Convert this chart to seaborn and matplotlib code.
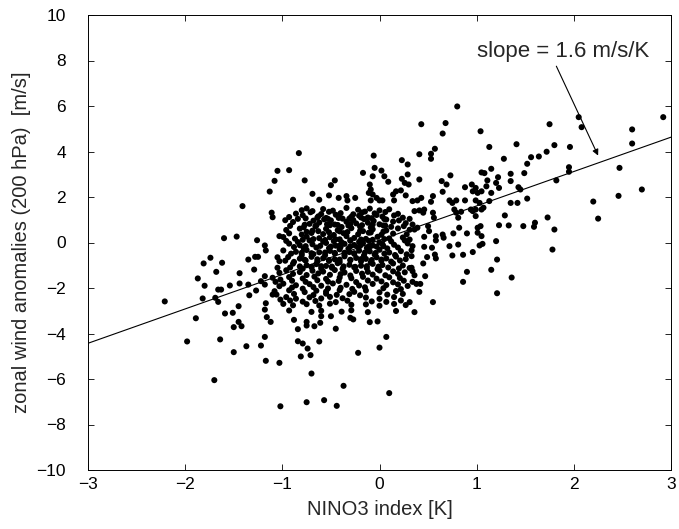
import numpy as np
import pandas as pd
import matplotlib
matplotlib.use("Agg")
import matplotlib.pyplot as plt
import seaborn as sns

# ---- data (NINO3 index [K], zonal wind anomaly [m/s]) ----
# sparse upper region
x_upper = [-1.05, -1.08, -1.13, -1.41,
           -0.83, -0.93, -0.77, -0.89, -0.69, -0.62, -0.52, -0.50, -0.46, -0.42, -0.34, -0.33, -0.25,
           -0.17, -0.06, -0.05, -0.07, 0.02, 0.05, 0.09, -0.10, -0.09, -0.11, -0.07, -0.03, -0.09, 0.00,
           0.03, 0.14, 0.17, 0.15, 0.23, 0.29, 0.23, 0.26, 0.29, 0.30, 0.22, 0.27]
y_upper = [3.15, 2.71, 2.24, 1.60,
           3.93, 3.18, 2.73, 1.88, 2.14, 1.88, 2.07, 2.52, 2.73, 1.96, 2.04, 1.85, 1.96,
           3.06, 3.82, 3.28, 2.91, 3.16, 2.91, 2.67, 2.55, 2.33, 2.18, 2.11, 1.96, 1.85, 1.85,
           1.85, 2.11, 2.25, 1.85, 3.62, 3.43, 2.80, 2.62, 2.99, 2.55, 2.29, 2.07]

# upper right region
x_upright = [0.80, 0.43, 0.68, 0.65, 1.04, 1.13, 1.41, 1.28, 0.41, 0.57, 0.53, 0.53, 0.41,
             0.73, 0.64, 0.69, 0.65, 0.88, 0.95, 0.99, 0.96, 1.01, 1.05, 1.05, 1.08, 1.15, 1.11,
             1.10, 1.22, 1.20, 1.15, 1.23, 1.35, 1.35, 1.49, 1.52, 1.56, 1.64, 1.43, 1.45, 1.52,
             1.35, 1.42, 1.13, 0.99, 1.03, 0.88, 0.72, 0.75, 0.79, 0.55, 0.53, 0.43, 0.39, 0.34,
             2.92, 2.05, 2.08, 1.75, 2.60, 2.60, 1.80, 1.72, 1.96, 1.95, 1.95, 1.82, 2.47, 2.70,
             2.46, 2.20, 1.73, 1.80, 1.78, 2.25]
y_upright = [5.98, 5.20, 5.25, 4.79, 4.89, 4.20, 4.32, 3.68, 3.88, 4.12, 3.90, 3.68, 2.77,
             2.95, 2.70, 2.55, 2.23, 2.43, 2.55, 2.40, 2.25, 2.18, 2.25, 3.08, 3.05, 3.24, 2.73,
             2.47, 2.87, 2.62, 2.18, 2.40, 3.02, 2.70, 3.05, 3.46, 3.75, 3.78, 2.43, 2.33, 1.93,
             1.74, 1.74, 1.82, 1.85, 1.74, 1.85, 1.85, 1.74, 1.85, 2.04, 1.79, 1.96, 1.85, 1.82,
             5.51, 5.51, 5.07, 5.20, 4.97, 4.35, 4.28, 3.99, 4.20, 3.31, 3.11, 2.73, 3.28, 2.33,
             2.05, 1.80, 1.10, 0.57, -0.31, 1.05]

# left region
x_left = [-1.11, -1.10, -1.60, -1.47, -1.26, -1.18, -1.17, -1.03, -1.05, -1.03, -1.74, -1.81,
          -1.62, -1.35, -1.28, -1.25, -1.68, -1.29, -1.44, -1.87, -1.80, -1.66, -1.63, -1.54,
          -1.44, -1.35, -1.18, -1.22, -1.18, -1.10, -1.07, -1.08, -1.10, -1.06, -1.34, -1.27,
          -1.82, -1.69, -1.66, -2.21, -1.45, -1.51, -1.59, -1.17, -1.18, -1.05, -1.03, -1.02,
          -1.03, -1.02]
y_left = [1.31, 1.11, 0.19, 0.26, 0.10, -0.13, -0.35, 0.28, -0.65, -0.82, -0.67, -0.92,
          -0.89, -0.75, -0.63, -0.63, -1.29, -1.19, -1.35, -1.58, -1.90, -2.07, -2.07, -1.89,
          -1.80, -1.85, -1.48, -1.70, -1.85, -1.55, -1.73, -2.14, -2.29, -2.29, -2.32, -2.11,
          -2.46, -2.43, -2.61, -2.59, -2.80, -3.09, -3.12, -2.67, -2.95, -1.11, -1.33, -1.63,
          -1.92, -2.51]

# lower region
x_lower = [-1.89, -1.98, -1.64, -1.50, -1.50, -1.45, -1.42, -1.37, -1.22, -1.18, -1.17, -1.16,
           -1.12, -1.03, -1.70, -1.02,
           -0.88, -0.75, -0.75, -0.84, -0.67, -0.61, -0.60, -0.50, -0.45, -0.30, -0.27, -0.10,
           -0.02, 0.07, 0.00, -0.84, -0.79, -0.74, -0.62, -0.81, -0.71, -0.22, -0.70, -0.37,
           0.10, -0.75, -0.57, -0.44]
y_lower = [-3.33, -4.35, -4.26, -4.82, -3.72, -3.49, -3.68, -4.56, -4.53, -4.15, -5.20, -3.28,
           -3.49, -5.29, -6.05, -7.20,
           -3.40, -3.49, -3.65, -3.81, -3.68, -3.53, -3.24, -3.24, -3.79, -3.31, -3.38, -3.50,
           -3.47, -4.15, -4.62, -4.34, -4.44, -4.66, -4.35, -5.01, -4.95, -4.85, -5.76, -6.30,
           -6.62, -7.02, -6.93, -7.18]

# right-centre region
x_right = [0.36, 0.41, 0.46, 0.45, 0.55, 0.56, 0.77, 0.79, 0.84, 0.81, 0.94, 0.96, 0.99, 1.05,
           1.07, 0.99, 1.29, 1.23, 1.33, 1.48, 1.60, 1.59, 0.34, 0.36, 0.39, 0.50, 0.51, 0.46,
           0.58, 0.58, 0.65, 0.66, 0.76, 0.82, 0.90, 1.01, 1.04, 1.01, 1.05, 1.20, 0.34, 0.31,
           0.46, 0.54, 0.72, 0.81, 1.03, 1.06, 0.33, 0.49, 0.57, 0.58, 0.75, 0.86, 0.96, 1.21,
           0.45, 0.33, 0.34, 0.36, 0.47, 0.90, 1.15, 1.36, 0.86, 0.34, 0.38, 0.42, 0.41, 1.21,
           0.55, 0.31, 0.36]
y_right = [1.38, 1.41, 1.45, 1.31, 1.31, 1.09, 1.45, 1.31, 1.35, 1.09, 1.45, 1.38, 1.45, 1.45,
           1.53, 1.16, 1.19, 0.76, 0.75, 0.72, 0.87, 0.69, 0.79, 0.57, 0.65, 0.72, 0.50, 0.25,
           0.28, 0.09, 0.35, 0.21, 0.40, 0.65, 0.40, 0.65, 0.72, 0.43, 0.28, 0.06, -0.16, 0.13,
           -0.19, -0.23, -0.16, -0.09, -0.13, -0.06, -0.60, -0.64, -0.53, -0.70, -0.57, -0.54,
           -0.42, -0.75, -0.92, -1.11, -1.26, -1.44, -1.48, -1.29, -1.20, -1.54, -1.73, -1.73,
           -1.82, -1.82, -2.17, -2.23, -2.62, -2.62, -3.06]

# dense core, first layer
x_core = [-0.80, -0.75, -0.69, -0.58, -0.48, -0.34, -0.22, -0.15, -0.10, 0.00, 0.10,
          -0.93, -0.79, -0.63, -0.55, -0.45, -0.29, -0.21, -0.12, -0.03, 0.03, 0.15, 0.24,
          -0.89, -0.72, -0.62, -0.46, -0.34, -0.24, -0.12, 0.00, 0.14, 0.27,
          -0.96, -0.82, -0.69, -0.55, -0.43, -0.29, -0.17, -0.07, 0.07, 0.19, 0.31,
          -0.99, -0.87, -0.75, -0.62, -0.51, -0.41, -0.34, -0.26, -0.14, -0.02, 0.10, 0.24,
          -0.93, -0.82, -0.69, -0.55, -0.45, -0.36, -0.26, -0.17, -0.07, 0.03, 0.15, 0.29,
          -0.99, -0.86, -0.75, -0.62, -0.51, -0.41, -0.31, -0.21, -0.10, 0.00, 0.10, 0.22, 0.33,
          -0.94, -0.82, -0.70, -0.58, -0.46, -0.36, -0.24, -0.14, -0.03, 0.07, 0.17, 0.27,
          -0.89, -0.75, -0.65, -0.55, -0.43, -0.31, -0.19, -0.07, 0.03, 0.14, 0.24,
          -0.96, -0.82, -0.69, -0.58, -0.46, -0.36, -0.24, -0.12, 0.00, 0.14, 0.26,
          -0.93, -0.79, -0.67, -0.55, -0.41, -0.29, -0.17, -0.03, 0.10, 0.21,
          -0.99, -0.86, -0.72, -0.60, -0.48, -0.34, -0.21, -0.07, 0.07, 0.19, 0.29,
          -0.93, -0.77, -0.65, -0.55, -0.41, -0.26, -0.14, 0.00, 0.17,
          -0.96, -0.86, -0.72, -0.60, -0.51, -0.38, -0.14, 0.00, 0.15,
          -0.99, -0.89, -0.75, -0.62, -0.51, -0.29, -0.14, 0.00, 0.15, 0.27,
          -0.93, -0.70, -0.60, -0.39, -0.29, -0.12, 0.17]
y_core = [1.42, 1.50, 1.38, 1.47, 1.40, 1.52, 1.44, 1.36, 1.49, 1.41, 1.46,
          1.12, 1.20, 1.15, 1.08, 1.22, 1.13, 1.18, 1.10, 1.21, 1.14, 1.19, 1.09,
          0.90, 0.82, 0.88, 0.79, 0.91, 0.84, 0.87, 0.80, 0.92, 0.85,
          0.55, 0.61, 0.52, 0.60, 0.54, 0.63, 0.50, 0.58, 0.53, 0.62, 0.56,
          0.24, 0.17, 0.26, 0.19, 0.23, 0.14, 0.28, 0.20, 0.16, 0.25, 0.18, 0.22,
          -0.05, -0.12, -0.08, -0.02, -0.14, -0.06, -0.11, -0.03, -0.13, -0.07, -0.10, -0.04,
          -0.35, -0.41, -0.33, -0.43, -0.37, -0.30, -0.42, -0.36, -0.39, -0.32, -0.44, -0.38, -0.34,
          -0.64, -0.71, -0.63, -0.69, -0.74, -0.61, -0.68, -0.72, -0.65, -0.70, -0.62, -0.73,
          -0.93, -1.00, -0.95, -1.03, -0.91, -0.98, -1.02, -0.94, -0.99, -0.92, -1.01,
          -1.22, -1.30, -1.24, -1.28, -1.21, -1.32, -1.25, -1.29, -1.23, -1.27, -1.31,
          -1.52, -1.58, -1.50, -1.60, -1.54, -1.57, -1.51, -1.59, -1.53, -1.56,
          -1.81, -1.88, -1.83, -1.90, -1.80, -1.86, -1.89, -1.82, -1.87, -1.84, -1.91,
          -2.10, -2.18, -2.12, -2.16, -2.09, -2.17, -2.11, -2.19, -2.13,
          -2.40, -2.47, -2.41, -2.46, -2.39, -2.45, -2.42, -2.48, -2.40,
          -2.70, -2.76, -2.71, -2.77, -2.69, -2.74, -2.72, -2.78, -2.70, -2.75,
          -2.99, -3.05, -3.00, -3.04, -2.98, -3.06, -3.01]

# dense core, second (in-between) layer
x_core2 = [-0.86, -0.71, -0.60, -0.52, -0.40, -0.27, -0.18, -0.05, 0.06, 0.19,
           -0.97, -0.84, -0.68, -0.57, -0.50, -0.38, -0.27, -0.16, -0.06, 0.07, 0.20, 0.31,
           -0.92, -0.78, -0.66, -0.51, -0.39, -0.32, -0.20, -0.09, 0.04, 0.12, 0.25,
           -0.93, -0.80, -0.70, -0.58, -0.47, -0.37, -0.22, -0.11, 0.02, 0.14, 0.28,
           -0.96, -0.84, -0.72, -0.58, -0.47, -0.39, -0.30, -0.21, -0.11, 0.00, 0.12, 0.26,
           -0.88, -0.78, -0.65, -0.52, -0.40, -0.32, -0.22, -0.13, -0.03, 0.08, 0.19,
           -0.91, -0.80, -0.68, -0.56, -0.46, -0.36, -0.26, -0.16, -0.05, 0.05, 0.16, 0.28,
           -0.97, -0.88, -0.76, -0.64, -0.52, -0.41, -0.30, -0.19, -0.09, 0.02, 0.12, 0.21,
           -0.92, -0.79, -0.70, -0.60, -0.49, -0.38, -0.26, -0.13, -0.02, 0.09, 0.20, 0.31,
           -0.89, -0.75, -0.63, -0.51, -0.40, -0.30, -0.18, -0.07, 0.06, 0.19,
           -0.90, -0.76, -0.64, -0.53, -0.42, -0.24, -0.12, 0.02, 0.14, 0.25,
           -0.90, -0.79, -0.68, -0.53, -0.40, -0.28, -0.15, 0.04, 0.22,
           -0.88, -0.68, -0.55, -0.44, -0.31, -0.20, 0.08, 0.24,
           -0.92, -0.79, -0.66, -0.45, -0.33, -0.08, 0.07, 0.22]
y_core2 = [1.27, 1.33, 1.25, 1.35, 1.29, 1.24, 1.32, 1.28, 1.34, 1.26,
           0.98, 1.04, 0.96, 1.02, 0.97, 1.05, 0.99, 1.03, 0.95, 1.01, 0.97, 1.04,
           0.73, 0.67, 0.71, 0.76, 0.68, 0.74, 0.70, 0.66, 0.75, 0.69, 0.72,
           0.40, 0.35, 0.42, 0.37, 0.33, 0.41, 0.36, 0.43, 0.34, 0.39, 0.36,
           0.07, 0.02, 0.09, 0.04, 0.06, 0.01, 0.08, 0.03, 0.07, 0.00, 0.05, 0.09,
           -0.20, -0.26, -0.22, -0.25, -0.19, -0.27, -0.21, -0.24, -0.18, -0.26, -0.22,
           -0.49, -0.55, -0.51, -0.56, -0.48, -0.54, -0.50, -0.57, -0.53, -0.49, -0.55, -0.52,
           -0.80, -0.85, -0.79, -0.84, -0.81, -0.86, -0.78, -0.83, -0.87, -0.80, -0.84, -0.79,
           -1.10, -1.15, -1.08, -1.14, -1.11, -1.16, -1.09, -1.13, -1.17, -1.10, -1.14, -1.12,
           -1.38, -1.43, -1.36, -1.42, -1.39, -1.45, -1.37, -1.41, -1.44, -1.38,
           -1.68, -1.73, -1.66, -1.72, -1.69, -1.74, -1.67, -1.71, -1.75, -1.68,
           -1.98, -2.03, -1.96, -2.02, -1.99, -2.04, -1.97, -2.01, -2.05,
           -2.26, -2.31, -2.25, -2.30, -2.27, -2.32, -2.29, -2.26,
           -2.55, -2.60, -2.57, -2.62, -2.56, -2.59, -2.61, -2.55]

# dense core, third layer (the nearly solid centre)
x_core3 = [-0.76, -0.64, -0.53, -0.42, -0.31, -0.19, -0.08, 0.05,
           -0.77, -0.65, -0.54, -0.43, -0.30, -0.18, -0.07, 0.06,
           -0.75, -0.63, -0.52, -0.41, -0.33, -0.20, -0.09, 0.04,
           -0.79, -0.68, -0.56, -0.45, -0.30, -0.19, -0.07, 0.05,
           -0.76, -0.61, -0.50, -0.41, -0.30, -0.20, -0.10, 0.04,
           -0.80, -0.70, -0.56, -0.46, -0.36, -0.26, -0.15, -0.04,
           -0.77, -0.64, -0.52, -0.41, -0.30, -0.19, -0.08, 0.02,
           -0.82, -0.70, -0.60, -0.49, -0.37, -0.25, -0.13, -0.01]
y_core3 = [1.06, 1.09, 1.04, 1.08, 1.05, 1.10, 1.07, 1.03,
           0.78, 0.75, 0.80, 0.77, 0.81, 0.76, 0.79, 0.74,
           0.47, 0.50, 0.45, 0.49, 0.46, 0.51, 0.44, 0.48,
           0.12, 0.15, 0.11, 0.14, 0.10, 0.13, 0.12, 0.15,
           -0.16, -0.15, -0.18, -0.14, -0.17, -0.15, -0.18, -0.16,
           -0.45, -0.47, -0.44, -0.46, -0.45, -0.47, -0.44, -0.46,
           -0.76, -0.74, -0.77, -0.75, -0.76, -0.73, -0.77, -0.75,
           -1.05, -1.07, -1.04, -1.06, -1.05, -1.07, -1.04, -1.06]

# regression line (end points)
fit_x = [-3.0, 3.0]
fit_y = [-4.43, 4.63]

slope_label = "slope = 1.6 m/s/K"
x_ticks = [-3, -2, -1, 0, 1, 2, 3]
y_ticks = [-10, -8, -6, -4, -2, 0, 2, 4, 6, 8, 10]

df = pd.DataFrame({
    "nino3": x_upper + x_upright + x_left + x_lower + x_right + x_core + x_core2 + x_core3,
    "u200": y_upper + y_upright + y_left + y_lower + y_right + y_core + y_core2 + y_core3,
})
fit = pd.DataFrame({"x": fit_x, "y": fit_y})

# ---- styling ----
sns.set_style("ticks")
plt.rcParams["font.family"] = ["Liberation Sans", "DejaVu Sans"]
plt.rcParams["xtick.direction"] = "in"
plt.rcParams["ytick.direction"] = "in"

TICK_FS = 12.5
LABEL_FS = 14.5
fig = plt.figure(figsize=(6.79, 5.29), dpi=100)
ax = fig.add_axes([88 / 679, 1 - 470 / 529, (671 - 88) / 679, (470 - 15) / 529])

sns.scatterplot(data=df, x="nino3", y="u200", ax=ax, color="black", s=19,
                edgecolor="none", linewidth=0)
sns.lineplot(data=fit, x="x", y="y", ax=ax, color="black", linewidth=0.8)

ax.set_xlim(-3, 3)
ax.set_ylim(-10, 10)
ax.set_xticks(x_ticks)
ax.set_yticks(y_ticks)
ax.tick_params(which="both", direction="in", top=True, right=True, length=4,
               width=0.6, labelsize=TICK_FS, colors="black")
ax.tick_params(axis="x", pad=5)
ax.tick_params(axis="y", pad=16)
for sp in ax.spines.values():
    sp.set_visible(True)
    sp.set_linewidth(0.7)
    sp.set_color("black")

ax.set_xlabel("NINO3 index [K]", fontsize=LABEL_FS, labelpad=6)
ax.set_ylabel("zonal wind anomalies (200 hPa)  [m/s]", fontsize=LABEL_FS, labelpad=4)

ax.text(1.89, 8.4, slope_label, ha="center", va="center", fontsize=16)
ax.annotate("", xy=(2.25, 3.82), xytext=(1.82, 7.75),
            arrowprops=dict(arrowstyle="-|>", color="black", lw=0.8,
                            mutation_scale=9, shrinkA=0, shrinkB=0))

fig.savefig("out.png", dpi=100, facecolor="white")
